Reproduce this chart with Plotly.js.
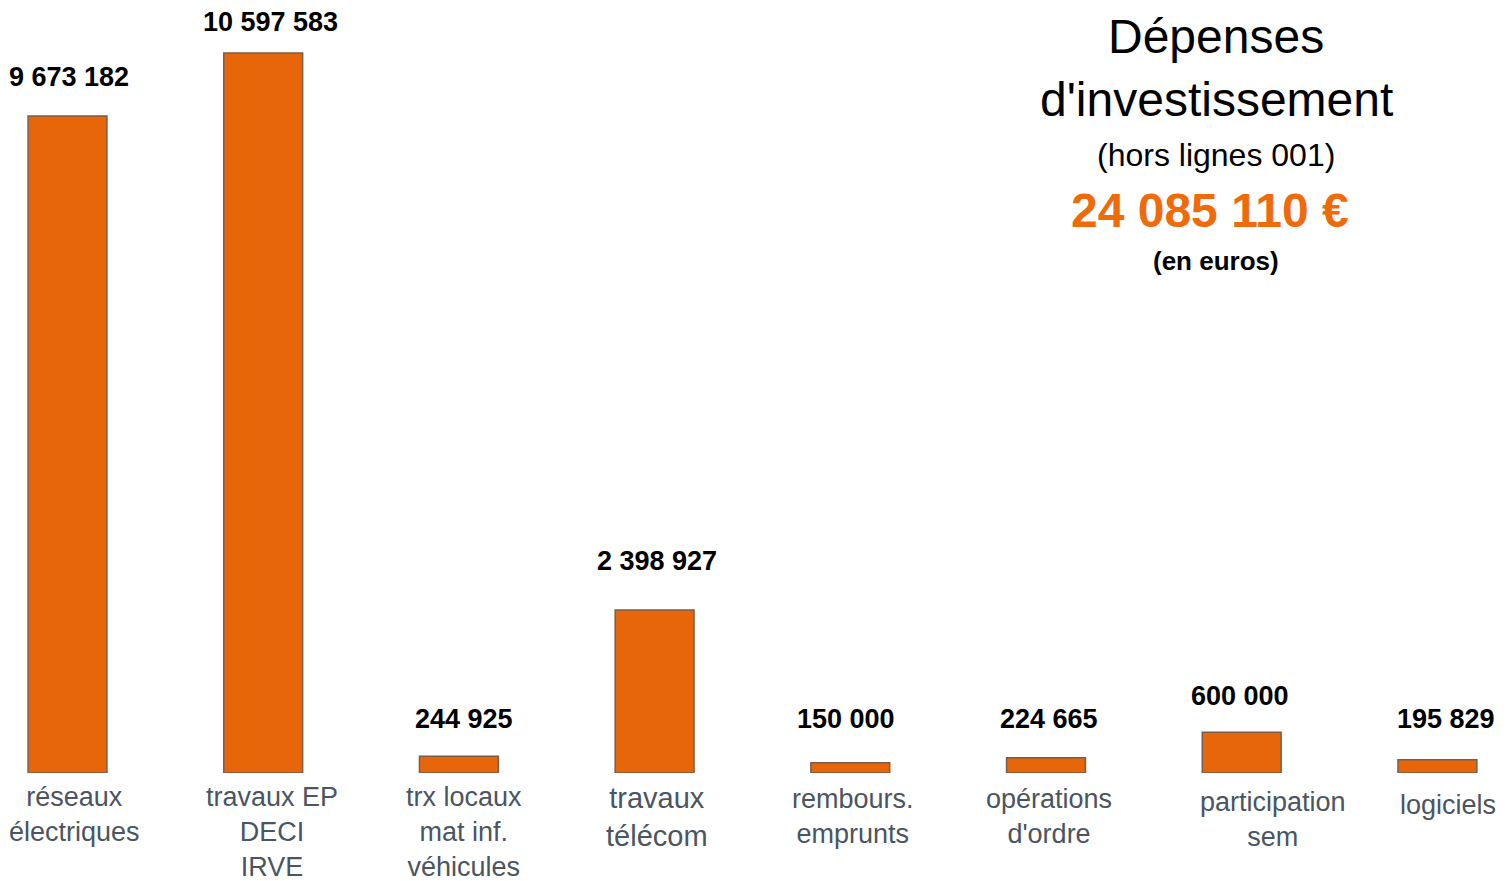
<!DOCTYPE html>
<html>
<head>
<meta charset="utf-8">
<script src="https://cdn.plot.ly/plotly-3.0.1.min.js"></script>
<style>html,body{margin:0;padding:0;background:#fff;}#chart{width:1510px;height:881px;}</style>
</head>
<body>
<div id="chart"></div>
<script>
// ---- data ----
const categories = ['réseaux<br>électriques', 'travaux EP<br>DECI<br>IRVE', 'trx locaux<br>mat inf.<br>véhicules', 'travaux<br>télécom', 'rembours.<br>emprunts', 'opérations<br>d\'ordre', 'participation<br>sem', 'logiciels'];
const values = [9673182, 10597583, 244925, 2398927, 150000, 224665, 600000, 195829];
const valueLabels = ['9 673 182', '10 597 583', '244 925', '2 398 927', '150 000', '224 665', '600 000', '195 829'];
const titleLines = ['Dépenses', 'd\'investissement', '(hors lignes 001)', '24 085 110 €', '(en euros)'];

// ---- label placement tweaks (pixels) ----
const valueShift = [[1.5, 38.5], [7.5, 31], [5.5, 37], [2.5, 49], [-4.5, 44], [2.5, 39], [-1.5, 36], [8.5, 41]];
const catShift = [[6.5, 0], [8.5, 0], [5.5, 0], [2.5, 0], [2.5, -2], [2.5, -2], [31.5, -5], [10.5, -8]];

const W = 1510, H = 881, baseY = 773;
const FONT = 'Liberation Sans, Arial, sans-serif';
const idx = categories.map((c, i) => i);

const trace = {
  type: 'bar',
  x: idx,
  y: values,
  width: 0.403,
  marker: { color: '#E8660A', line: { color: '#7a5c4a', width: 1.5 } },
  hoverinfo: 'skip'
};

const annotations = [];
idx.forEach(i => {
  annotations.push({
    x: i, y: values[i], xref: 'x', yref: 'y',
    text: '<b>' + valueLabels[i] + '</b>',
    showarrow: false, xanchor: 'center', yanchor: 'middle',
    xshift: valueShift[i][0], yshift: valueShift[i][1],
    font: { family: FONT, size: 27, color: '#000' }
  });
  annotations.push({
    x: i, y: 0, xref: 'x', yref: 'y',
    text: categories[i],
    showarrow: false, xanchor: 'center', yanchor: 'top',
    xshift: catShift[i][0], yshift: -7 + catShift[i][1],
    font: { family: FONT, size: i === 3 ? 29 : 27, color: '#4a5561' }
  });
});

const titleY = [37, 100, 155, 211, 261];
const titleX = [0, 0, 0, -6, 0];
const titleStyles = [
  { size: 48, color: '#000', bold: false },
  { size: 48, color: '#000', bold: false },
  { size: 32, color: '#000', bold: false },
  { size: 48, color: '#F06A0A', bold: true },
  { size: 26, color: '#000', bold: true }
];
titleLines.forEach((t, k) => {
  const s = titleStyles[k];
  annotations.push({
    x: 1216 / W, y: (baseY - titleY[k]) / baseY, xref: 'paper', yref: 'paper',
    xshift: titleX[k],
    text: s.bold ? '<b>' + t + '</b>' : t,
    showarrow: false, xanchor: 'center', yanchor: 'middle',
    font: { family: FONT, size: s.size, color: s.color }
  });
});

const unit = 195.7;
const layout = {
  width: W, height: H,
  margin: { l: 0, r: 0, t: 0, b: H - baseY, pad: 0 },
  paper_bgcolor: '#fff', plot_bgcolor: '#fff',
  showlegend: false,
  xaxis: { range: [-67.5 / unit, (W - 67.5) / unit], visible: false, fixedrange: true },
  yaxis: { range: [0, baseY * 14721], visible: false, fixedrange: true },
  annotations: annotations
};

Plotly.newPlot('chart', [trace], layout, { displayModeBar: false, staticPlot: true });
</script>
</body>
</html>
